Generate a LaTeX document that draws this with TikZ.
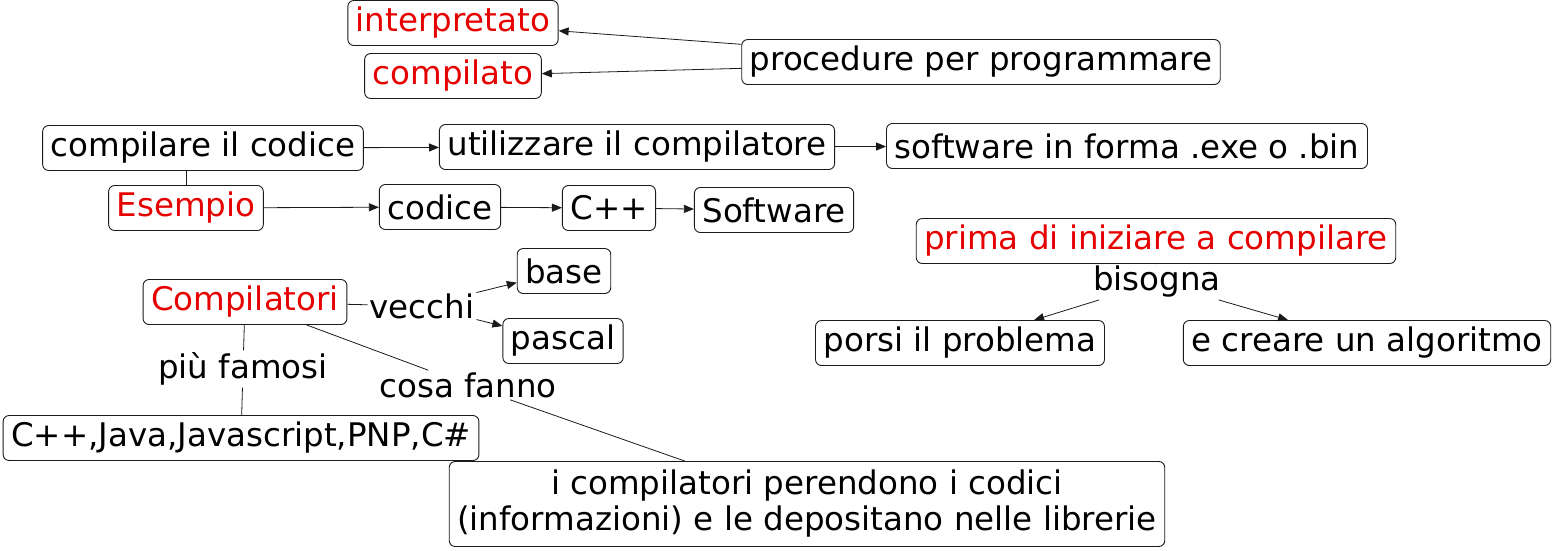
\documentclass[tikz,border=0pt]{standalone}
\usepackage{fontspec}
\setmainfont{DejaVu Sans}
\usetikzlibrary{arrows.meta, positioning}
\definecolor{mapred}{HTML}{E60000}
\definecolor{mapline}{HTML}{1A1A1A}

\begin{document}
\begin{tikzpicture}[
    x=1pt, y=-1pt,
    every node/.style={font=\fontsize{32.5}{36}\selectfont},
    >={Triangle[length=10pt, width=8pt]},
    concept/.style={draw=mapline, fill=white, rounded corners=6pt, text=#1, line width=0.9pt,
                    minimum height=45pt, inner xsep=8pt, align=center},
    concept/.default=black,
    linkword/.style={text=black, inner sep=2pt},
    link/.style={draw=mapline, line width=0.8pt},
]

% canvas
\useasboundingbox (0,0) rectangle (1552,550);

% =============================================
% TOP: procedure per programmare
% =============================================
\node[concept=mapred] (interp) at (453, 23) {interpretato};
\node[concept=mapred] (compilato) at (453, 76) {compilato};
\node[concept] (procedure) at (981, 62) {procedure per programmare};

\draw[link, ->] (procedure) -- (interp);
\draw[link, ->] (procedure) -- (compilato);

% =============================================
% ROW 2: compilare il codice
% =============================================
\node[concept] (compilare) at (203, 148) {compilare il codice};
\node[concept] (utilizzare) at (637, 147) {utilizzare il compilatore};
\node[concept] (software) at (1127, 146) {software in forma .exe o .bin};

\draw[link, ->] (compilare) -- (utilizzare);
\draw[link, ->] (utilizzare) -- (software);

% === Esempio ===
\node[concept=mapred] (esempio) at (186, 208) {Esempio};
\node[concept] (codice) at (440, 207) {codice};
\node[concept] (cpp) at (609, 208) {C++};
\node[concept] (softw) at (774, 210) {Software};

\draw[link] (esempio.north) -- (esempio.north |- compilare.south);
\draw[link, ->] (esempio) -- (codice);
\draw[link, ->] (codice) -- (cpp);
\draw[link, ->] (cpp) -- (softw);

% =============================================
% LEFT: Compilatori
% =============================================
\node[concept=mapred] (compilatori) at (245, 302) {Compilatori};

\node[linkword] (vecchi) at (422, 306) {vecchi};
\node[concept] (base) at (564, 271) {base};
\node[concept] (pascal) at (563, 341) {pascal};

\draw[link] (compilatori) -- (vecchi);
\draw[link, ->] (vecchi) -- (base);
\draw[link, ->] (vecchi) -- (pascal);

\node[linkword] (famosi) at (243, 369) {più famosi};
\node[concept] (linguaggi) at (241, 438) {C++,Java,Javascript,PNP,C\#};

\draw[link] (compilatori) -- (famosi);
\draw[link] (famosi) -- (linguaggi);

\node[linkword] (cosafanno) at (468, 385) {cosa fanno};
\node[concept, minimum height=85pt] (librerie) at (807, 504)
    {i compilatori perendono i codici\\(informazioni) e le depositano nelle librerie};

\draw[link] (compilatori) -- (cosafanno);
\draw[link] (cosafanno) -- (librerie);

% =============================================
% RIGHT: prima di iniziare a compilare
% =============================================
\node[concept=mapred] (prima) at (1156, 241) {prima di iniziare a compilare};
\node[linkword] (bisogna) at (1157, 282) {bisogna};
\node[concept] (porsi) at (960, 343) {porsi il problema};
\node[concept] (algoritmo) at (1367, 343) {e creare un algoritmo};

\draw[link] (prima) -- (bisogna);
\draw[link, ->] (bisogna) -- (porsi);
\draw[link, ->] (bisogna) -- (algoritmo);

\end{tikzpicture}
\end{document}
